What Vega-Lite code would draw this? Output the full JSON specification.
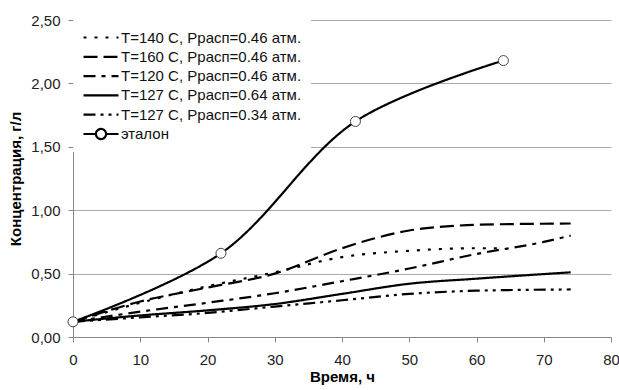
{
  "$schema": "https://vega.github.io/schema/vega-lite/v6.json",
  "width": 538,
  "height": 317,
  "autosize": {"type": "none"},
  "padding": {"left": 73, "top": 20, "right": 8, "bottom": 53},
  "background": "white",
  "config": {
    "view": {"stroke": null},
    "font": "Liberation Sans",
    "axis": {
      "labelFont": "Liberation Sans",
      "titleFont": "Liberation Sans",
      "labelFontSize": 15,
      "titleFontSize": 15,
      "labelColor": "#222222",
      "titleColor": "#000000",
      "titleFontWeight": "bold",
      "domainColor": "#888888",
      "tickColor": "#888888",
      "gridColor": "#aaaaaa",
      "tickSize": 5
    },
    "legend": {"labelFont": "Liberation Sans"}
  },
  "data": {
    "values": [
      {"s": "T=140 C, Ррасп=0.46 атм.", "t": 0, "c": 0.12},
      {"s": "T=140 C, Ррасп=0.46 атм.", "t": 10, "c": 0.27},
      {"s": "T=140 C, Ррасп=0.46 атм.", "t": 20, "c": 0.40},
      {"s": "T=140 C, Ррасп=0.46 атм.", "t": 30, "c": 0.51},
      {"s": "T=140 C, Ррасп=0.46 атм.", "t": 40, "c": 0.63},
      {"s": "T=140 C, Ррасп=0.46 атм.", "t": 50, "c": 0.68},
      {"s": "T=140 C, Ррасп=0.46 атм.", "t": 60, "c": 0.70},
      {"s": "T=140 C, Ррасп=0.46 атм.", "t": 64, "c": 0.70},
      {"s": "T=160 C, Ррасп=0.46 атм.", "t": 0, "c": 0.12},
      {"s": "T=160 C, Ррасп=0.46 атм.", "t": 10, "c": 0.28},
      {"s": "T=160 C, Ррасп=0.46 атм.", "t": 20, "c": 0.39},
      {"s": "T=160 C, Ррасп=0.46 атм.", "t": 30, "c": 0.50},
      {"s": "T=160 C, Ррасп=0.46 атм.", "t": 40, "c": 0.70},
      {"s": "T=160 C, Ррасп=0.46 атм.", "t": 45, "c": 0.78},
      {"s": "T=160 C, Ррасп=0.46 атм.", "t": 50, "c": 0.84},
      {"s": "T=160 C, Ррасп=0.46 атм.", "t": 55, "c": 0.87},
      {"s": "T=160 C, Ррасп=0.46 атм.", "t": 60, "c": 0.885},
      {"s": "T=160 C, Ррасп=0.46 атм.", "t": 74, "c": 0.895},
      {"s": "T=120 C, Ррасп=0.46 атм.", "t": 0, "c": 0.12},
      {"s": "T=120 C, Ррасп=0.46 атм.", "t": 10, "c": 0.20},
      {"s": "T=120 C, Ррасп=0.46 атм.", "t": 20, "c": 0.27},
      {"s": "T=120 C, Ррасп=0.46 атм.", "t": 30, "c": 0.345},
      {"s": "T=120 C, Ррасп=0.46 атм.", "t": 40, "c": 0.44},
      {"s": "T=120 C, Ррасп=0.46 атм.", "t": 50, "c": 0.54},
      {"s": "T=120 C, Ррасп=0.46 атм.", "t": 60, "c": 0.655},
      {"s": "T=120 C, Ррасп=0.46 атм.", "t": 70, "c": 0.75},
      {"s": "T=120 C, Ррасп=0.46 атм.", "t": 74, "c": 0.80},
      {"s": "T=127 C, Ррасп=0.64 атм.", "t": 0, "c": 0.12},
      {"s": "T=127 C, Ррасп=0.64 атм.", "t": 10, "c": 0.17},
      {"s": "T=127 C, Ррасп=0.64 атм.", "t": 20, "c": 0.21},
      {"s": "T=127 C, Ррасп=0.64 атм.", "t": 30, "c": 0.26},
      {"s": "T=127 C, Ррасп=0.64 атм.", "t": 40, "c": 0.34},
      {"s": "T=127 C, Ррасп=0.64 атм.", "t": 50, "c": 0.42},
      {"s": "T=127 C, Ррасп=0.64 атм.", "t": 60, "c": 0.46},
      {"s": "T=127 C, Ррасп=0.64 атм.", "t": 74, "c": 0.51},
      {"s": "T=127 C, Ррасп=0.34 атм.", "t": 0, "c": 0.12},
      {"s": "T=127 C, Ррасп=0.34 атм.", "t": 10, "c": 0.155},
      {"s": "T=127 C, Ррасп=0.34 атм.", "t": 20, "c": 0.19},
      {"s": "T=127 C, Ррасп=0.34 атм.", "t": 30, "c": 0.24},
      {"s": "T=127 C, Ррасп=0.34 атм.", "t": 40, "c": 0.29},
      {"s": "T=127 C, Ррасп=0.34 атм.", "t": 50, "c": 0.34},
      {"s": "T=127 C, Ррасп=0.34 атм.", "t": 60, "c": 0.365},
      {"s": "T=127 C, Ррасп=0.34 атм.", "t": 74, "c": 0.375},
      {"s": "эталон", "t": 0, "c": 0.12},
      {"s": "эталон", "t": 22, "c": 0.66},
      {"s": "эталон", "t": 42, "c": 1.70},
      {"s": "эталон", "t": 64, "c": 2.18}
    ]
  },
  "encoding": {
    "x": {
      "field": "t", "type": "quantitative",
      "scale": {"domain": [0, 80], "nice": false, "zero": false},
      "axis": {"title": "Время, ч", "values": [0,10,20,30,40,50,60,70,80], "grid": false, "labelPadding": 10, "titlePadding": 2, "labelFlush": false}
    },
    "y": {
      "field": "c", "type": "quantitative",
      "scale": {"domain": [0, 2.5], "nice": false},
      "axis": {"title": "Концентрация, г/л", "values": [0,0.5,1,1.5,2,2.5], "format": ".2f", "labelExpr": "replace(datum.label, '.', ',')", "grid": true, "labelPadding": 8, "titlePadding": 7, "labelFlush": false}
    }
  },
  "layer": [
    {
      "transform": [{"filter": "datum.s !== 'эталон'"}],
      "mark": {"type": "line", "interpolate": "monotone", "color": "black", "strokeWidth": 2.2},
      "encoding": {
        "detail": {"field": "s"},
        "strokeDash": {
          "field": "s", "type": "nominal",
          "scale": {
            "domain": ["T=140 C, Ррасп=0.46 атм.", "T=160 C, Ррасп=0.46 атм.", "T=120 C, Ррасп=0.46 атм.", "T=127 C, Ррасп=0.64 атм.", "T=127 C, Ррасп=0.34 атм.", "эталон"],
            "range": [[3, 8], [14, 6], [12, 6, 4, 6], [1, 0], [12, 5, 3, 5, 3, 5], [1, 0]]
          },
          "legend": {
            "title": null, "orient": "top-left", "offset": 0, "padding": 9,
            "fillColor": "white", "symbolType": "stroke", "symbolSize": 1225,
            "symbolStrokeWidth": 2.2, "symbolStrokeColor": "black", "symbolOpacity": 1,
            "labelFontSize": 15, "labelColor": "#111111", "labelOffset": 1,
            "clipHeight": 17, "rowPadding": 2.3, "labelLimit": 300
          }
        }
      }
    },
    {
      "transform": [{"filter": "datum.s === 'эталон'"}],
      "mark": {"type": "line", "interpolate": "catmull-rom", "color": "black", "strokeWidth": 2.2},
      "encoding": {
        "strokeDash": {"field": "s", "type": "nominal"}
      }
    },
    {
      "transform": [{"filter": "datum.s === 'эталон'"}],
      "mark": {"type": "point", "filled": true, "fill": "white", "stroke": "black", "opacity": 0},
      "encoding": {
        "shape": {
          "field": "s", "type": "nominal",
          "scale": {
            "domain": ["T=140 C, Ррасп=0.46 атм.", "T=160 C, Ррасп=0.46 атм.", "T=120 C, Ррасп=0.46 атм.", "T=127 C, Ррасп=0.64 атм.", "T=127 C, Ррасп=0.34 атм.", "эталон"],
            "range": ["stroke", "stroke", "stroke", "stroke", "stroke", "M-1,0L-0.29,0M0.29,0L1,0M0.29,0A0.29,0.29,0,1,1,-0.29,0A0.29,0.29,0,1,1,0.29,0"]
          },
          "legend": {
            "title": null, "orient": "top-left", "offset": 0, "padding": 9,
            "fillColor": "white", "symbolSize": 1225,
            "symbolStrokeWidth": 2.2, "symbolOpacity": 1,
            "labelFontSize": 15, "labelColor": "#111111", "labelOffset": 1,
            "clipHeight": 17, "rowPadding": 2.3, "labelLimit": 300
          }
        }
      }
    },
    {
      "transform": [{"filter": "datum.s === 'эталон'"}],
      "mark": {"type": "point", "shape": "circle", "filled": true, "fill": "white", "stroke": "#444444", "strokeWidth": 1, "size": 100, "opacity": 1}
    }
  ]
}
